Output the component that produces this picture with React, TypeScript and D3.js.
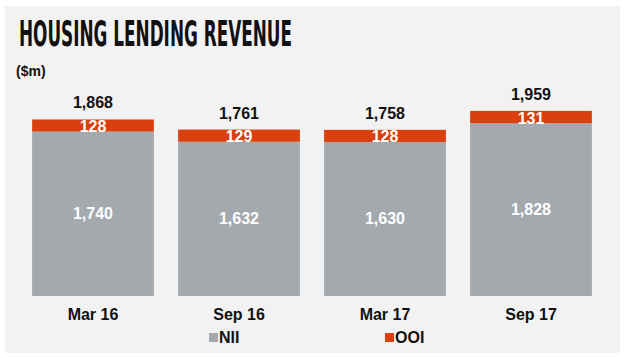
import React, { useEffect, useRef } from 'react';
import * as d3 from 'd3';

const periods = ['Mar 16', 'Sep 16', 'Mar 17', 'Sep 17'];
const nii = [1740, 1632, 1630, 1828];
const ooi = [128, 129, 128, 131];
const totals = [1868, 1761, 1758, 1959];
const legendItems = ['NII', 'OOI'];

const W = 624;
const H = 358;
const GREY = '#a4a9ae';
const ORANGE = '#d9400e';
const FONT = 'Arial, "Liberation Sans", Helvetica, sans-serif';

export default function App() {
  const svgRef = useRef<SVGSVGElement>(null);

  useEffect(() => {
    const svg = d3.select(svgRef.current);
    svg.selectAll('*').remove();

    // panel background
    svg.append('rect')
      .attr('x', 5).attr('y', 6)
      .attr('width', 615).attr('height', 347)
      .attr('fill', '#f2f2f2');

    svg.append('text')
      .attr('x', 19).attr('y', 46)
      .attr('textLength', 273)
      .attr('lengthAdjust', 'spacingAndGlyphs')
      .style('font-family', '"Liberation Sans Narrow", "DejaVu Sans Condensed", sans-serif')
      .style('font-weight', 'bold')
      .style('font-size', '35px')
      .style('fill', '#111')
      .text('HOUSING LENDING REVENUE');

    svg.append('text')
      .attr('x', 16).attr('y', 76)
      .style('font-family', FONT)
      .style('font-weight', 'bold')
      .style('font-size', '14px')
      .style('fill', '#111')
      .text('($m)');

    const x = d3.scaleBand<string>()
      .domain(periods)
      .range([20, 604])
      .paddingInner(0.166)
      .paddingOuter(0.083);

    const y = d3.scaleLinear().domain([0, 2000]).range([296, 107]);

    const rows = periods.map((p, i) => ({ p, nii: nii[i], ooi: ooi[i], total: totals[i] }));
    const g = svg.append('g');

    g.selectAll('rect.nii')
      .data(rows)
      .enter().append('rect')
      .attr('class', 'nii')
      .attr('x', d => x(d.p)!)
      .attr('width', x.bandwidth())
      .attr('y', d => y(d.nii))
      .attr('height', d => y(0) - y(d.nii))
      .attr('fill', GREY);

    g.selectAll('rect.ooi')
      .data(rows)
      .enter().append('rect')
      .attr('class', 'ooi')
      .attr('x', d => x(d.p)!)
      .attr('width', x.bandwidth())
      .attr('y', d => y(d.nii + d.ooi))
      .attr('height', d => y(d.nii) - y(d.nii + d.ooi))
      .attr('fill', ORANGE);

    const cx = (d: { p: string }) => x(d.p)! + x.bandwidth() / 2;
    const fmt = d3.format(',');

    // total labels
    g.selectAll('text.total')
      .data(rows)
      .enter().append('text')
      .attr('x', cx)
      .attr('y', d => y(d.nii + d.ooi) - 11)
      .attr('text-anchor', 'middle')
      .style('font-family', FONT)
      .style('font-weight', 'bold')
      .style('font-size', '16px')
      .style('fill', '#111')
      .text(d => fmt(d.total));

    // OOI labels
    g.selectAll('text.ooiLbl')
      .data(rows)
      .enter().append('text')
      .attr('x', cx)
      .attr('y', d => y(d.nii) + 0.5)
      .attr('text-anchor', 'middle')
      .style('font-family', FONT)
      .style('font-weight', 'bold')
      .style('font-size', '16px')
      .style('fill', '#fff')
      .text(d => fmt(d.ooi));

    // NII labels
    g.selectAll('text.niiLbl')
      .data(rows)
      .enter().append('text')
      .attr('x', cx)
      .attr('y', d => (y(d.nii) + y(0)) / 2 + 5.5)
      .attr('text-anchor', 'middle')
      .style('font-family', FONT)
      .style('font-weight', 'bold')
      .style('font-size', '16px')
      .style('fill', '#fff')
      .text(d => fmt(d.nii));

    // category axis
    g.selectAll('text.cat')
      .data(periods)
      .enter().append('text')
      .attr('x', d => x(d)! + x.bandwidth() / 2)
      .attr('y', 320)
      .attr('text-anchor', 'middle')
      .style('font-family', FONT)
      .style('font-weight', 'bold')
      .style('font-size', '16px')
      .style('fill', '#111')
      .text(d => d);

    // legend
    const legendX = [209, 385];
    const legendColors = [GREY, ORANGE];
    legendItems.forEach((name, i) => {
      svg.append('rect')
        .attr('x', legendX[i]).attr('y', 333)
        .attr('width', 9).attr('height', 9)
        .attr('fill', legendColors[i]);
      svg.append('text')
        .attr('x', legendX[i] + 10).attr('y', 343)
        .style('font-family', FONT)
        .style('font-weight', 'bold')
        .style('font-size', '16px')
        .style('fill', '#111')
        .text(name);
    });
  }, []);

  return (
    <svg
      ref={svgRef}
      width={W}
      height={H}
      style={{ position: 'absolute', left: 0, top: 0, background: '#fff' }}
    />
  );
}
